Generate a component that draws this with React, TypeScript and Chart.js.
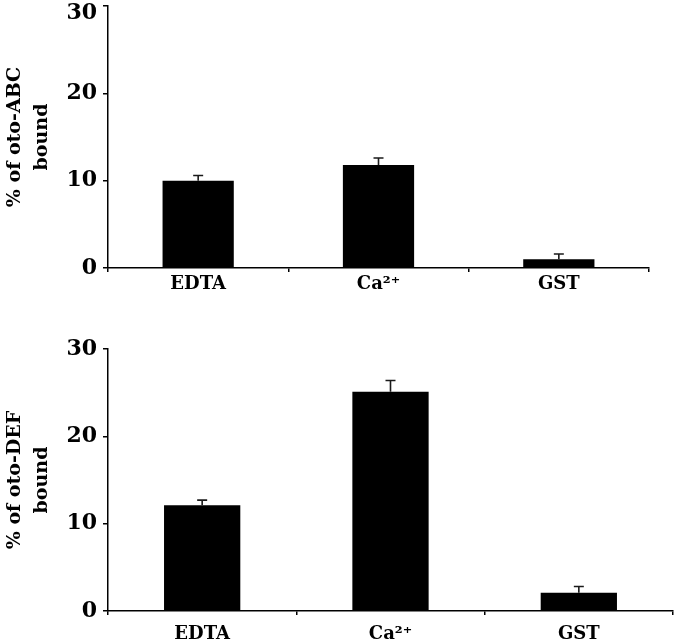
import React, { useEffect, useRef } from "react";
import { Chart, registerables } from "chart.js";

Chart.register(...registerables);

const categories = ["EDTA", "Ca\u00B2\u207A", "GST"];
const abcValues = [10.0, 11.8, 1.0];
const abcErrors = [0.6, 0.8, 0.6];
const defValues = [12.1, 25.1, 2.1];
const defErrors = [0.6, 1.3, 0.7];
const yTicks = [0, 10, 20, 30];

const FONT = "'DejaVu Serif', serif";

const errorBarPlugin = {
  id: "errorBars",
  afterDatasetsDraw(chart: any) {
    const ctx = chart.ctx;
    const yScale = chart.scales.y;
    chart.data.datasets.forEach((ds: any, di: number) => {
      const meta = chart.getDatasetMeta(di);
      const errs: number[] = ds.errors || [];
      meta.data.forEach((bar: any, i: number) => {
        const v = ds.data[i];
        const e = errs[i];
        if (e == null) return;
        const yTop = yScale.getPixelForValue(v + e);
        const yBase = yScale.getPixelForValue(v);
        ctx.save();
        ctx.strokeStyle = "#1a1a1a";
        ctx.lineWidth = 1.6;
        ctx.beginPath();
        ctx.moveTo(bar.x, yBase);
        ctx.lineTo(bar.x, yTop);
        ctx.moveTo(bar.x - 5, yTop);
        ctx.lineTo(bar.x + 5, yTop);
        ctx.stroke();
        ctx.restore();
      });
    });
  },
};

type PanelProps = {
  top: number;
  height: number;
  padTop: number;
  padRight: number;
  values: number[];
  errors: number[];
  title: string[];
  barPct: number;
  xPad: number;
  shiftTopLabel: boolean;
};

function Panel(p: PanelProps) {
  const ref = useRef<HTMLCanvasElement | null>(null);
  useEffect(() => {
    if (!ref.current) return;
    const chartHeight = 262;
    const xHeight = p.height - p.padTop - chartHeight;
    const chart = new Chart(ref.current, {
      type: "bar",
      data: {
        labels: categories,
        datasets: [
          {
            data: p.values,
            errors: p.errors,
            backgroundColor: "#000",
            borderWidth: 0,
            barPercentage: p.barPct,
            categoryPercentage: 1,
          } as any,
        ],
      },
      options: {
        animation: false,
        responsive: false,
        maintainAspectRatio: false,
        layout: { padding: { left: 0, top: p.padTop, right: p.padRight, bottom: 0 } },
        plugins: { legend: { display: false }, tooltip: { enabled: false } },
        scales: {
          x: {
            offset: true,
            grid: {
              offset: true,
              drawOnChartArea: false,
              drawTicks: true,
              tickLength: 4,
              color: "#000",
              lineWidth: 1.5,
            },
            border: { color: "#000", width: 1.5 },
            ticks: {
              color: "#000",
              padding: p.xPad,
              font: { family: FONT, size: 18, weight: "bold" },
              maxRotation: 0,
            },
            afterFit(scale: any) {
              scale.height = xHeight;
              scale.paddingLeft = 0;
              scale.paddingRight = 0;
            },
          },
          y: {
            min: 0,
            max: 30,
            afterBuildTicks(scale: any) {
              scale.ticks = yTicks.map((v) => ({ value: v }));
            },
            grid: {
              drawOnChartArea: false,
              drawTicks: true,
              tickLength: 5,
              color: "#000",
              lineWidth: 1.5,
            },
            border: { color: "#000", width: 1.5 },
            ticks: {
              color: "#000",
              padding: 6,
              callback: (v: any) =>
                p.shiftTopLabel && Number(v) === 30 ? ["", String(v)] : String(v),
              font: (c: any) =>
                p.shiftTopLabel && c.tick && c.tick.value === 30
                  ? { family: FONT, size: 22, weight: "bold", lineHeight: 0.65 }
                  : { family: FONT, size: 22, weight: "bold" },
            },
            title: {
              display: true,
              text: p.title,
              color: "#000",
              padding: { top: 1, bottom: 0 },
              font: { family: FONT, size: 19, weight: "bold", lineHeight: 1.45 },
            },
            afterFit(scale: any) {
              scale.width = 108;
              scale.paddingTop = 0;
              scale.paddingBottom = 0;
            },
          },
        },
      },
      plugins: [errorBarPlugin],
    } as any);
    return () => chart.destroy();
  }, []);
  return (
    <canvas
      ref={ref}
      width={677}
      height={p.height}
      style={{ position: "absolute", left: 0, top: p.top, width: 677, height: p.height }}
    />
  );
}

export default function App() {
  return (
    <div
      style={{
        position: "absolute",
        left: 0,
        top: 0,
        width: 677,
        height: 642,
        background: "#fff",
        overflow: "hidden",
      }}
    >
      <Panel
        top={0}
        height={300}
        padTop={6}
        padRight={28}
        values={abcValues}
        errors={abcErrors}
        title={["% of oto-ABC", "bound"]}
        barPct={0.395}
        xPad={2}
        shiftTopLabel={true}
      />
      <Panel
        top={300}
        height={342}
        padTop={49}
        padRight={4}
        values={defValues}
        errors={defErrors}
        title={["% of oto-DEF", "bound"]}
        barPct={0.405}
        xPad={9}
        shiftTopLabel={false}
      />
    </div>
  );
}
